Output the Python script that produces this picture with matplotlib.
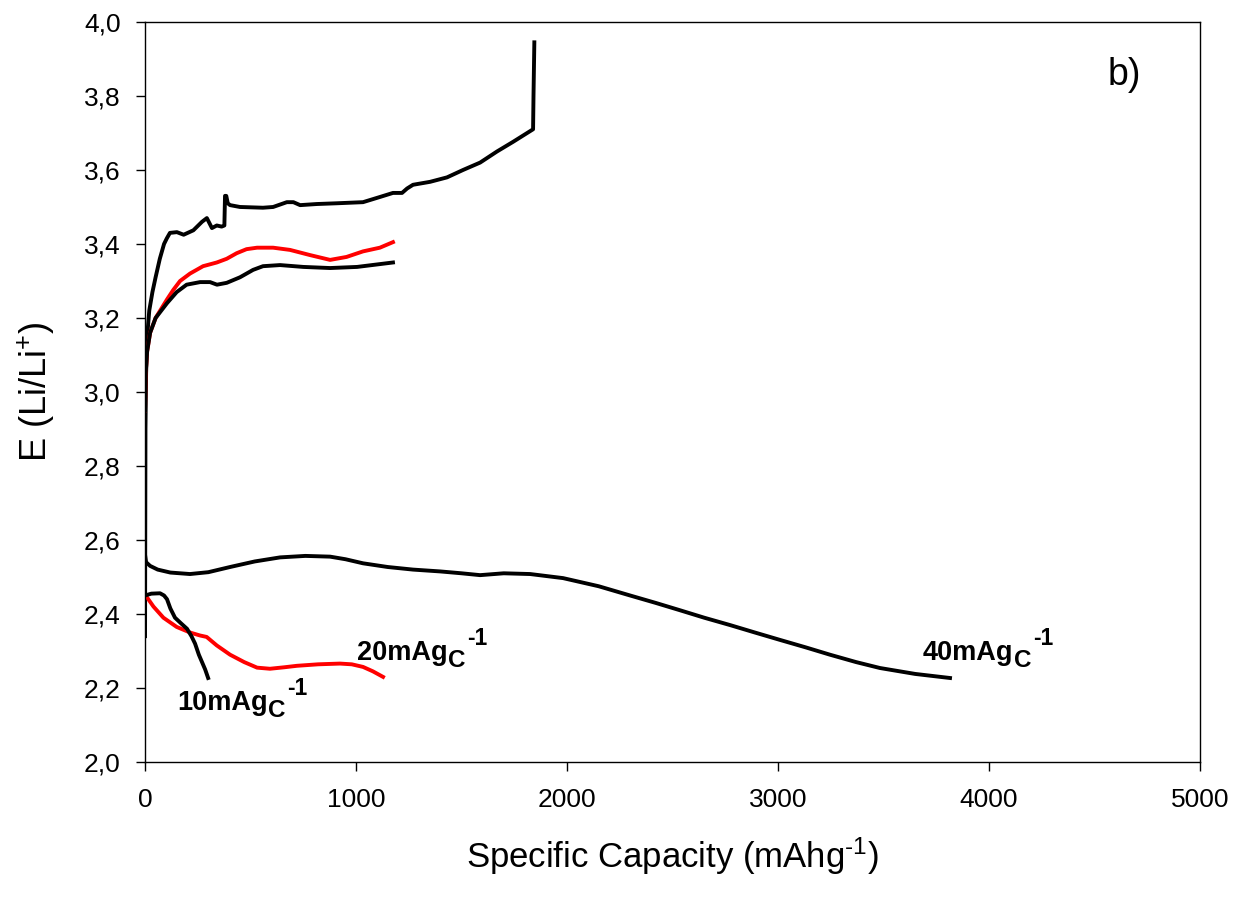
import matplotlib
matplotlib.use("Agg")
import matplotlib.pyplot as plt
from matplotlib.ticker import FuncFormatter

plt.rcParams["font.family"] = ["Liberation Sans", "DejaVu Sans"]
plt.rcParams["mathtext.fontset"] = "custom"
plt.rcParams["mathtext.rm"] = "Liberation Sans"
plt.rcParams["mathtext.bf"] = "Liberation Sans:bold"
plt.rcParams["mathtext.it"] = "Liberation Sans:italic"

# 40 mA/gC - charge (black)
cap40_ch = [0, 2, 5, 10, 20, 35, 50, 70, 90, 103, 118, 151, 183, 229, 270, 293, 317,
            340, 363, 376, 379, 385, 392, 403, 450, 559, 607, 672, 703, 735, 814,
            908, 1033, 1113, 1175, 1218, 1242, 1270, 1351, 1431, 1507, 1588, 1668,
            1744, 1839, 1841, 1845]
v40_ch = [2.34, 2.90, 3.05, 3.15, 3.22, 3.27, 3.31, 3.36, 3.40, 3.415, 3.43, 3.432,
          3.425, 3.437, 3.46, 3.47, 3.443, 3.45, 3.447, 3.45, 3.53, 3.53, 3.51, 3.505,
          3.50, 3.498, 3.50, 3.513, 3.513, 3.505, 3.508, 3.51, 3.513, 3.527, 3.538,
          3.538, 3.55, 3.56, 3.568, 3.58, 3.60, 3.62, 3.65, 3.676, 3.71, 3.80, 3.945]

# 40 mA/gC - discharge (black)
cap40_dis = [0, 5, 24, 60, 120, 213, 300, 403, 520, 640, 760, 877, 950, 1033, 1150,
             1270, 1400, 1500, 1588, 1700, 1825, 1981, 2150, 2299, 2420, 2536, 2650,
             2773, 2890, 3009, 3130, 3246, 3370, 3483, 3650, 3815]
v40_dis = [2.56, 2.54, 2.53, 2.52, 2.512, 2.508, 2.513, 2.527, 2.542, 2.553, 2.557,
           2.555, 2.548, 2.537, 2.527, 2.52, 2.515, 2.51, 2.505, 2.51, 2.508, 2.497,
           2.475, 2.45, 2.43, 2.41, 2.39, 2.37, 2.35, 2.33, 2.31, 2.29, 2.27, 2.254,
           2.238, 2.227]

# 20 mA/gC - charge (red)
cap20_ch = [0, 3, 10, 24, 50, 104, 134, 166, 213, 275, 340, 387, 434, 481, 531, 607,
            687, 782, 877, 955, 1033, 1113, 1175]
v20_ch = [2.95, 3.05, 3.11, 3.16, 3.20, 3.25, 3.276, 3.30, 3.32, 3.34, 3.35, 3.36,
          3.375, 3.386, 3.39, 3.39, 3.384, 3.37, 3.357, 3.365, 3.38, 3.39, 3.405]

# 20 mA/gC - discharge (red)
cap20_dis = [0, 8, 40, 87, 150, 213, 260, 292, 340, 403, 470, 531, 592, 660, 720,
             820, 924, 980, 1033, 1080, 1128]
v20_dis = [2.45, 2.446, 2.42, 2.39, 2.365, 2.35, 2.342, 2.338, 2.315, 2.29, 2.27,
           2.255, 2.252, 2.256, 2.26, 2.264, 2.266, 2.264, 2.257, 2.245, 2.23]

# 10 mA/gC - charge (black)
cap10_ch = [0, 3, 10, 24, 50, 104, 150, 197, 261, 308, 341, 387, 450, 512, 559, 640,
            750, 877, 1005, 1175]
v10_ch = [2.95, 3.05, 3.11, 3.16, 3.20, 3.24, 3.27, 3.29, 3.297, 3.297, 3.29, 3.295,
          3.31, 3.33, 3.34, 3.343, 3.338, 3.335, 3.338, 3.35]

# 10 mA/gC - discharge (black)
cap10_dis = [0, 30, 71, 90, 104, 120, 142, 170, 199, 220, 237, 255, 270, 285, 299]
v10_dis = [2.45, 2.455, 2.456, 2.45, 2.44, 2.415, 2.39, 2.375, 2.36, 2.34, 2.32, 2.29,
           2.27, 2.25, 2.227]

# curve labels: (x, y, main text, subscript, superscript)
labels = [(152, 2.14, "10mAg", "C", "-1"),
          (1005, 2.276, "20mAg", "C", "-1"),
          (3687, 2.276, "40mAg", "C", "-1")]

DPI = 100
fig = plt.figure(figsize=(12.45, 8.97), dpi=DPI)
ax = fig.add_axes([0.1165, 0.1505, 0.8474, 0.825])

lw = 2.8
ax.plot(cap40_ch, v40_ch, color="black", lw=lw)
ax.plot(cap40_dis, v40_dis, color="black", lw=lw)
ax.plot(cap20_ch, v20_ch, color="red", lw=lw)
ax.plot(cap20_dis, v20_dis, color="red", lw=lw)
ax.plot(cap10_ch, v10_ch, color="black", lw=lw)
ax.plot(cap10_dis, v10_dis, color="black", lw=lw)

ax.set_xlim(0, 5000)
ax.set_ylim(2.0, 4.0)
ax.set_xticks([0, 1000, 2000, 3000, 4000, 5000])
ax.set_yticks([2.0, 2.2, 2.4, 2.6, 2.8, 3.0, 3.2, 3.4, 3.6, 3.8, 4.0])
ax.yaxis.set_major_formatter(FuncFormatter(lambda v, p: f"{v:.1f}".replace(".", ",")))
ax.tick_params(direction="out", length=6.5, width=1, labelsize=19)
ax.tick_params(axis="x", pad=12)
ax.tick_params(axis="y", pad=11)
for s in ax.spines.values():
    s.set_linewidth(1)

ax.set_xlabel(r"Specific Capacity (mAhg$^{\text{-1}}$)", fontsize=25, labelpad=17)
ax.set_ylabel(r"E (Li/Li$^{\mathregular{+}}$)", fontsize=26, labelpad=19)

renderer = fig.canvas.get_renderer()
for x, y, main, sub, sup in labels:
    t = ax.text(x, y, main, fontsize=19.5, fontweight="bold")
    w = t.get_window_extent(renderer).width * 72 / DPI
    ts = ax.annotate(sub, xy=(x, y), xytext=(w + 0.5, -5), textcoords="offset points",
                     fontsize=17.5, fontweight="bold")
    ws = ts.get_window_extent(renderer).width * 72 / DPI
    ax.annotate(sup, xy=(x, y), xytext=(w + ws + 1.5, 11), textcoords="offset points",
                fontsize=16.5, fontweight="bold")

ax.text(4560, 3.83, "b)", fontsize=27)

fig.savefig("out.png", dpi=DPI)
